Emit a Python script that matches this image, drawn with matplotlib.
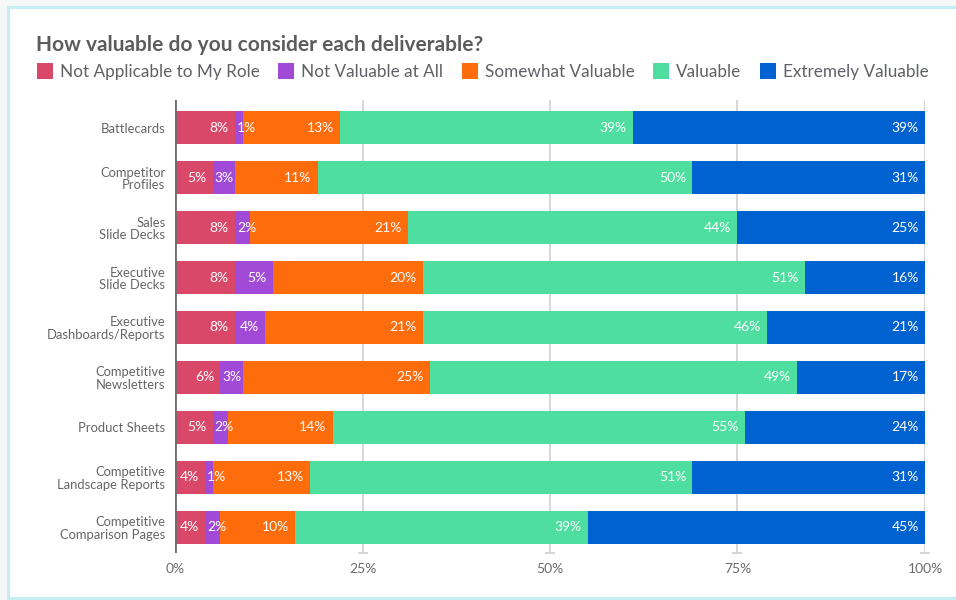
import matplotlib
matplotlib.use("Agg")
import matplotlib.pyplot as plt
import matplotlib.transforms as mtransforms
from matplotlib.patches import Rectangle
import numpy as np

plt.rcParams['font.family'] = ['Lato', 'DejaVu Sans']

title = "How valuable do you consider each deliverable?"
categories = ["Battlecards", "Competitor\nProfiles", "Sales\nSlide Decks", "Executive\nSlide Decks",
              "Executive\nDashboards/Reports", "Competitive\nNewsletters", "Product Sheets",
              "Competitive\nLandscape Reports", "Competitive\nComparison Pages"]
series_names = ["Not Applicable to My Role", "Not Valuable at All", "Somewhat Valuable",
                "Valuable", "Extremely Valuable"]
not_applicable = [8, 5, 8, 8, 8, 6, 5, 4, 4]
not_valuable = [1, 3, 2, 5, 4, 3, 2, 1, 2]
somewhat = [13, 11, 21, 20, 21, 25, 14, 13, 10]
valuable = [39, 50, 44, 51, 46, 49, 55, 51, 39]
extremely = [39, 31, 25, 16, 21, 17, 24, 31, 45]
colors = ["#D94868", "#A24AD8", "#FF6C0C", "#4EDE9F", "#0062D0"]
xticks = [0, 25, 50, 75, 100]
xtick_labels = ["0%", "25%", "50%", "75%", "100%"]

W, H = 956, 600
fig = plt.figure(figsize=(W / 100, H / 100), dpi=100)
fig.patch.set_facecolor("#F6F7F7")
fig.add_artist(Rectangle((8 / W, 1 - 598 / H), 1, (598 - 7) / H, transform=fig.transFigure,
                         facecolor="white", edgecolor="#C4EEF3", linewidth=2.2, zorder=-5))

ax = fig.add_axes([175 / W, 1 - 553 / H, (925 - 175) / W, (553 - 100) / H])
ax.set_facecolor("none")
y = np.arange(len(categories))
series = [not_applicable, not_valuable, somewhat, valuable, extremely]
left = np.zeros(len(categories))
labels = []
for vals, col in zip(series, colors):
    vals = np.array(vals, dtype=float)
    ax.barh(y, vals, left=left, height=0.66, color=col, zorder=3)
    for yi, (l, v) in enumerate(zip(left, vals)):
        labels.append((l, l + v, yi, f"{int(v)}%"))
    left = left + vals

ax.set_xlim(0, 100)
ax.set_ylim(len(categories) - 1 + 0.52, -0.56)
for s in ax.spines.values():
    s.set_visible(False)
ax.set_xticks(xticks)
ax.set_xticklabels(xtick_labels)
ax.tick_params(axis='x', length=0, pad=7, labelsize=10, labelcolor="#6b6b6b")
ax.set_yticks(y)
ax.set_yticklabels(categories, linespacing=1.05)
ax.tick_params(axis='y', length=0, pad=7, labelsize=9.4, labelcolor="#666666")
for xt in xticks[1:]:
    ax.axvline(xt, color="#D6D6D6", linewidth=1.4, zorder=1)
ax.plot(xticks[1:], [ax.get_ylim()[0]] * (len(xticks) - 1), linestyle='none', marker='_',
        markersize=7, markeredgewidth=1.4, color="#D6D6D6", clip_on=False, zorder=1)
ax.axvline(0, color="#6E6E6E", linewidth=2, zorder=4)

fig.canvas.draw()
renderer = fig.canvas.get_renderer()
for (l, r, yi, txt) in labels:
    tr = mtransforms.offset_copy(ax.transData, fig=fig, x=-6, y=0, units='dots')
    t = ax.text(r, yi, txt, ha='right', va='center', color='white', fontsize=10, transform=tr, zorder=5)
    bb = t.get_window_extent(renderer)
    startpx = ax.transData.transform((l, yi))[0]
    if bb.x0 < startpx + 2:
        t.set_transform(mtransforms.offset_copy(ax.transData, fig=fig, x=2, y=0, units='dots'))
        t.set_position((l, yi))
        t.set_ha('left')

# title
fig.text(36 / W, 1 - 45 / H, title, fontsize=15, fontweight='bold', color="#5C5C5C", va='center', ha='left')

# legend, laid out manually
xpos = 37
ly = 71
for name, col in zip(series_names, colors):
    fig.add_artist(Rectangle((xpos / W, 1 - (ly + 8) / H), 16 / W, 16 / H, transform=fig.transFigure,
                             facecolor=col, edgecolor='none'))
    t = fig.text((xpos + 23) / W, 1 - (ly + 1) / H, name, fontsize=12.3, color="#5F6166", va='center', ha='left')
    bb = t.get_window_extent(renderer)
    xpos = xpos + 23 + bb.width + 18.5

fig.savefig("out.png", dpi=100, facecolor=fig.get_facecolor())
